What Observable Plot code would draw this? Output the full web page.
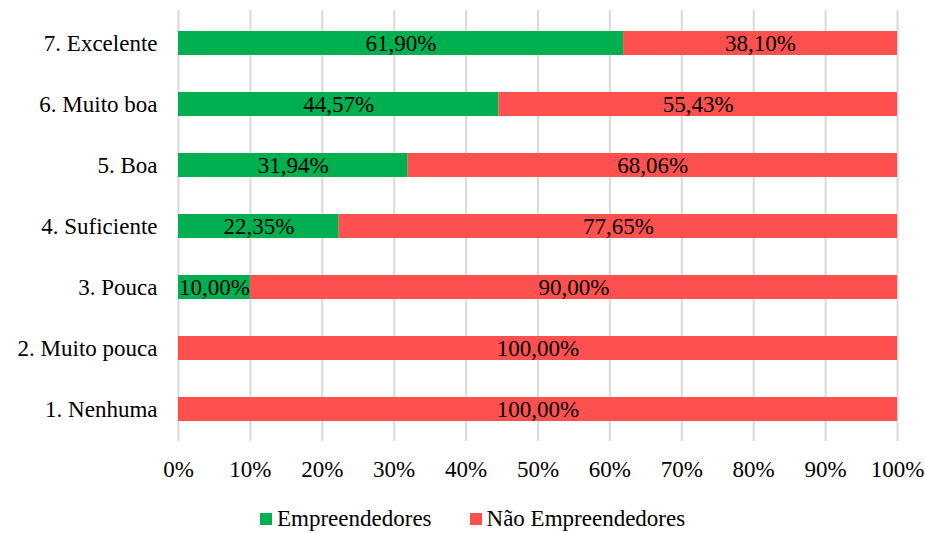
<!DOCTYPE html>
<html>
<head>
<meta charset="utf-8">
<script src="https://cdn.jsdelivr.net/npm/d3@7"></script>
<script src="https://cdn.jsdelivr.net/npm/@observablehq/plot@0.6"></script>
<style>
  html, body { margin: 0; padding: 0; background: #fff; }
  #chart { width: 925px; }
  .legend { display: flex; align-items: center; height: 42px; box-sizing: border-box; padding-top: 14px; padding-left: 260px;
    font-family: "Liberation Serif", Tinos, "Times New Roman", Times, "DejaVu Serif", "Noto Serif", serif; font-size: 23px; color: #000; line-height: 28px; }
  .legend .item { display: flex; align-items: center; }
  .legend .sw { width: 12px; height: 12px; display: inline-block; margin-right: 5px; }
</style>
</head>
<body>
<div id="chart"></div>
<script>
const categories = ["7. Excelente", "6. Muito boa", "5. Boa", "4. Suficiente", "3. Pouca", "2. Muito pouca", "1. Nenhuma"];
const seriesNames = ["Empreendedores", "Não Empreendedores"];
const empreendedores = [61.90, 44.57, 31.94, 22.35, 10.00, 0, 0];
const naoEmpreendedores = [38.10, 55.43, 68.06, 77.65, 90.00, 100.00, 100.00];
const xTicks = [0, 10, 20, 30, 40, 50, 60, 70, 80, 90, 100];
const colors = ["#00B050", "#FF5050"];
const FONT = "\"Liberation Serif\", Tinos, \"Times New Roman\", Times, \"DejaVu Serif\", \"Noto Serif\", serif";

const data = [];
categories.forEach((c, i) => {
  data.push({category: c, series: seriesNames[0], value: empreendedores[i]});
  data.push({category: c, series: seriesNames[1], value: naoEmpreendedores[i]});
});

const fmt = v => v.toFixed(2).replace(".", ",") + "%";

const chart = Plot.plot({
  width: 925,
  height: 491,
  marginLeft: 178,
  marginRight: 28,
  marginTop: 10,
  marginBottom: 50,
  style: {fontFamily: FONT, fontSize: "23px", color: "#000", background: "#fff"},
  x: {domain: [0, 100], ticks: xTicks, tickFormat: d => d + "%", tickSize: 0, tickPadding: 19, label: null, grid: false},
  y: {domain: categories, paddingInner: 0.61, paddingOuter: 0.305, tickSize: 0, tickPadding: 21, label: null},
  color: {domain: seriesNames, range: colors},
  marks: [
    Plot.ruleX(xTicks, {stroke: "#D9D9D9", strokeWidth: 2}),
    Plot.barX(data, Plot.stackX({x: "value", y: "category", fill: "series", order: null})),
    Plot.text(data, Plot.stackX({x: "value", y: "category", z: "series", order: null, filter: d => d.value > 0, text: d => fmt(d.value), fill: "#000", fontSize: 23, fontFamily: FONT}))
  ]
});
chart.style.fontFamily = FONT;
document.getElementById("chart").appendChild(chart);

const legend = document.createElement("div");
legend.className = "legend";
seriesNames.forEach((s, i) => {
  const item = document.createElement("span");
  item.className = "item";
  item.style.marginRight = i === 0 ? "38px" : "0";
  const sw = document.createElement("span");
  sw.className = "sw";
  sw.style.background = colors[i];
  item.appendChild(sw);
  item.appendChild(document.createTextNode(s));
  legend.appendChild(item);
});
document.body.appendChild(legend);
</script>
</body>
</html>
